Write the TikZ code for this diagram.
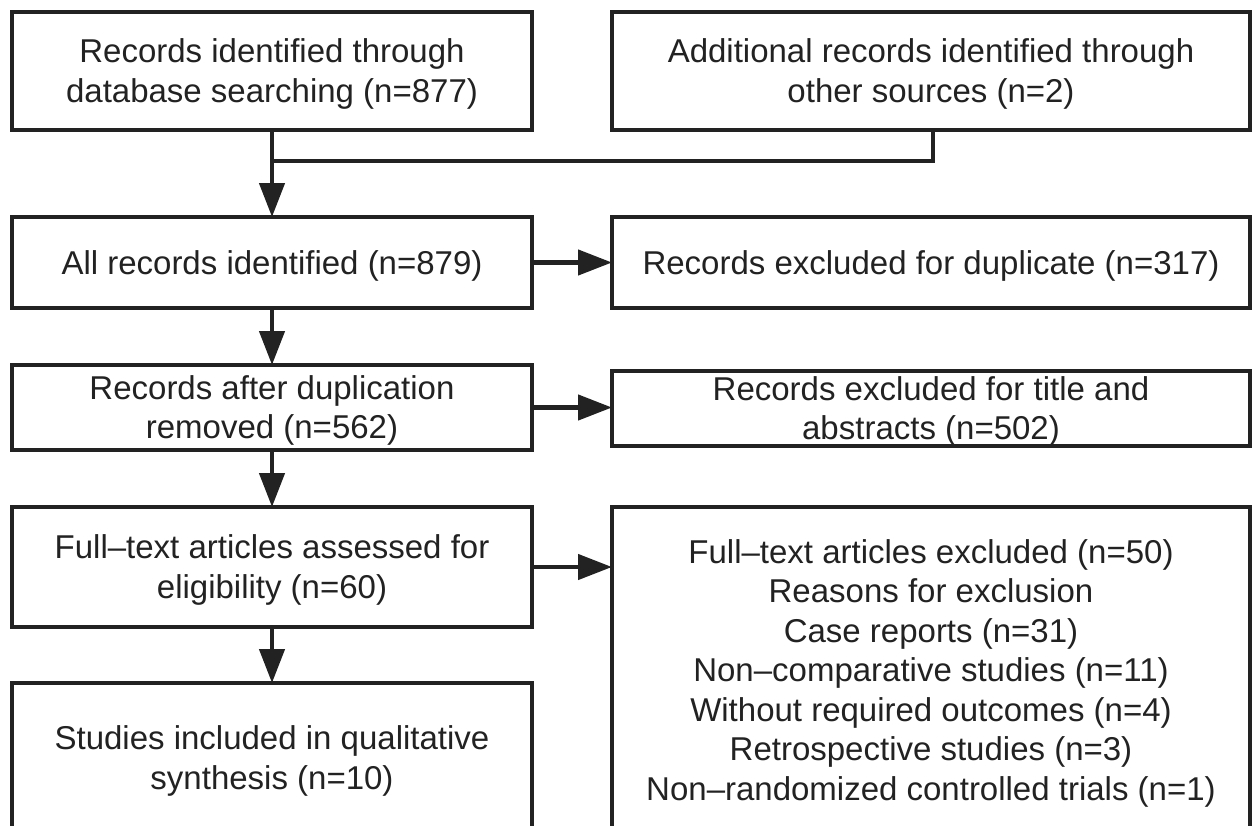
\documentclass[tikz,border=0pt]{standalone}
\usepackage{fontspec}
\setmainfont{Liberation Sans}
\usetikzlibrary{arrows.meta}
\definecolor{ink}{HTML}{222222}
\begin{document}
\begin{tikzpicture}[x=1pt,y=-1pt,
  box/.style={draw=ink, line width=4pt, fill=white, inner sep=0pt, outer sep=0pt},
  lbl/.style={font=\fontsize{33}{39.5}\selectfont, text=ink, align=center, inner sep=0pt, yshift=-3pt},
  conn/.style={draw=ink, line width=4.5pt},
  arr/.style={conn, -{Triangle[length=34pt,width=25pt]}}]
\useasboundingbox (0,0) rectangle (1253,825);
\clip (0,0) rectangle (1253,825);
% left column
\node[box, minimum width=520pt, minimum height=118pt] (A) at (272,71) {};
\node[lbl] (At) at (A.center) {Records identified through\\database searching (n=877)};
\node[box, minimum width=520pt, minimum height=91pt] (C) at (272,262.5) {};
\node[lbl] (Ct) at (C.center) {All records identified (n=879)};
\node[box, minimum width=520pt, minimum height=85pt] (E) at (272,407.5) {};
\node[lbl] (Et) at (E.center) {Records after duplication\\removed (n=562)};
\node[box, minimum width=520pt, minimum height=120pt] (F) at (272,567) {};
\node[lbl] (Ft) at (F.center) {Full–text articles assessed for\\eligibility (n=60)};
\node[box, minimum width=520pt, minimum height=187pt] (I) at (272,776.5) {};
\node[lbl] (It) at (272,758) {Studies included in qualitative\\synthesis (n=10)};
% right column
\node[box, minimum width=638pt, minimum height=118pt] (B) at (931,71) {};
\node[lbl] (Bt) at (B.center) {Additional records identified through\\other sources (n=2)};
\node[box, minimum width=638pt, minimum height=91pt] (D) at (931,262.5) {};
\node[lbl] (Dt) at (D.center) {Records excluded for duplicate (n=317)};
\node[box, minimum width=638pt, minimum height=75pt] (G) at (931,408.5) {};
\node[lbl] (Gt) at (G.center) {Records excluded for title and\\abstracts (n=502)};
\node[box, minimum width=638pt, minimum height=363pt] (H) at (931,688.5) {};
\node[lbl] (Ht) at (931,670) {Full–text articles excluded (n=50)\\Reasons for exclusion\\Case reports (n=31)\\Non–comparative studies (n=11)\\Without required outcomes (n=4)\\Retrospective studies (n=3)\\Non–randomized controlled trials (n=1)};
% connectors
\coordinate (J) at (A.south |- 0,161);
\draw[conn] ([xshift=2pt]B.south) |- (J);
\draw[arr] (A.south) -- (C.north);
\draw[arr] (C.east) -- (D.west);
\draw[arr] (C.south) -- (E.north);
\draw[arr] (E.east) -- (E.east -| G.west);
\draw[arr] (E.south) -- (F.north);
\draw[arr] (F.east) -- (F.east -| H.west);
\draw[arr] (F.south) -- (I.north);
\end{tikzpicture}
\end{document}
